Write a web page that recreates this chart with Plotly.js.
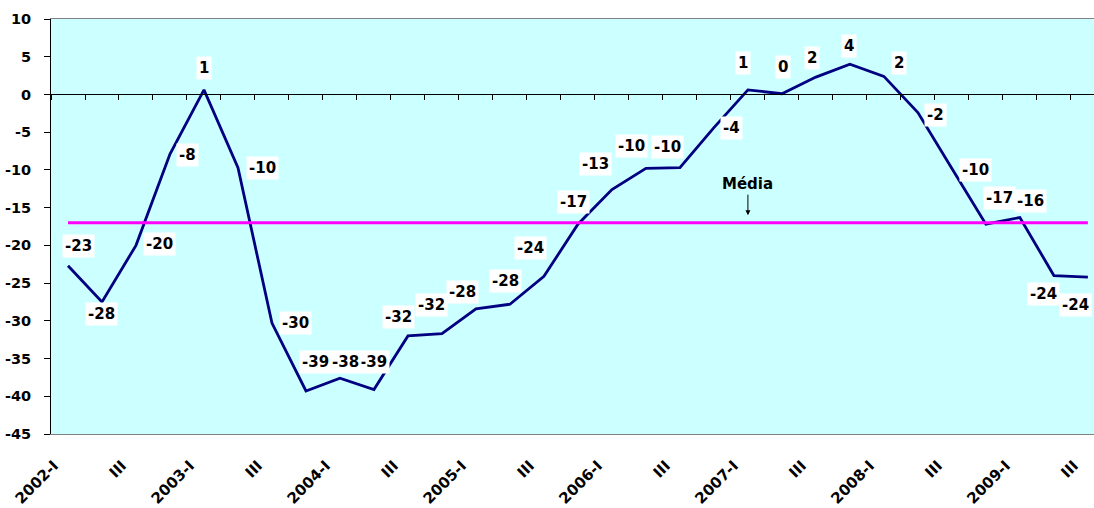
<!DOCTYPE html>
<html>
<head>
<meta charset="utf-8">
<script src="https://cdn.plot.ly/plotly-3.0.1.min.js"></script>
<style>html,body{margin:0;padding:0;background:#fff;}#chart{width:1094px;height:508px;}</style>
</head>
<body>
<div id="chart"></div>
<script>
// ---- data ----
var quarters = [
  '2002-I','2002-II','2002-III','2002-IV',
  '2003-I','2003-II','2003-III','2003-IV',
  '2004-I','2004-II','2004-III','2004-IV',
  '2005-I','2005-II','2005-III','2005-IV',
  '2006-I','2006-II','2006-III','2006-IV',
  '2007-I','2007-II','2007-III','2007-IV',
  '2008-I','2008-II','2008-III','2008-IV',
  '2009-I','2009-II','2009-III'
];
var tickLabels = [
  '2002-I','','III','',
  '2003-I','','III','',
  '2004-I','','III','',
  '2005-I','','III','',
  '2006-I','','III','',
  '2007-I','','III','',
  '2008-I','','III','',
  '2009-I','','III'
];
var yTickValues = [10, 5, 0, -5, -10, -15, -20, -25, -30, -35, -40, -45];
var yTickLabels = ['10', '5', '0', '-5', '-10', '-15', '-20', '-25', '-30', '-35', '-40', '-45'];
var values = [
  -22.7, -27.5, -20.0, -7.9,
  0.6, -9.7, -30.3, -39.3,
  -37.6, -39.1, -32.0, -31.7,
  -28.4, -27.8, -24.1, -17.2,
  -12.6, -9.8, -9.7, -4.4,
  0.6, 0.1, 2.3, 4.0,
  2.4, -2.4, -9.8, -17.2,
  -16.3, -24.0, -24.2
];
var valueLabels = [
  '-23','-28','-20','-8',
  '1','-10','-30','-39',
  '-38','-39','-32','-32',
  '-28','-28','-24','-17',
  '-13','-10','-10','-4',
  '1','0','2','4',
  '2','-2','-10','-17',
  '-16','-24','-24'
];
var mediaValue = -17;
var mediaLabel = 'Média';

// ---- label placement (pixel offsets from each point) ----
var labelDx = [10,0,24,18, 0,25,24,10, 6,0,-9,-10, -13,-4,-13,-4, -16,-14,-12,18, -5,1,-4,-1, 15,18,24,14, 11,-10,-12];
var labelDy = [-20,12,-1,1, -22,0,0,-29, -16,-27,-19,-29, -17,-23,-28,-22, -26,-22,-21,0, -27,-27,-19,-18, -13,2,2,-26, -16,18,28];

var FONT = 'DejaVu Sans, Verdana, sans-serif';
var labelFont = {family: FONT, size: 15, color: '#000', weight: 'bold'};
var yTickFont = {family: FONT, size: 14.5, color: '#000', weight: 'bold'};
var xTickFont = {family: FONT, size: 15, color: '#000', weight: 'bold'};

function bold(s) { return s ? '<b>' + s + '</b>' : ''; }

var annotations = [];
for (var i = values.length - 1; i >= 0; i--) {
  annotations.push({
    x: quarters[i], y: values[i], xref: 'x', yref: 'y',
    text: bold(valueLabels[i]), showarrow: false,
    xshift: labelDx[i], yshift: -labelDy[i],
    font: labelFont, bgcolor: '#ffffff', borderpad: 2
  });
}
annotations.push({
  x: quarters[20], y: -16.0, xref: 'x', yref: 'y',
  text: bold(mediaLabel), showarrow: true, ax: 0, ay: -31,
  arrowhead: 2, arrowsize: 1, arrowwidth: 1, arrowcolor: '#000',
  font: labelFont
});

var xRange = [-0.5, 30.18];

var traces = [
  {
    type: 'scatter', mode: 'lines', x: quarters, y: values,
    line: {color: '#000080', width: 2.8}, hoverinfo: 'skip', showlegend: false
  },
  {
    type: 'scatter', mode: 'lines', x: [quarters[0], quarters[quarters.length - 1]], y: [mediaValue, mediaValue],
    xaxis: 'x2', yaxis: 'y',
    line: {color: '#FF00FF', width: 3}, hoverinfo: 'skip', showlegend: false
  }
];

var layout = {
  width: 1094, height: 508,
  margin: {l: 51, r: 0, t: 19, b: 74},
  paper_bgcolor: '#ffffff',
  plot_bgcolor: '#CCFFFF',
  showlegend: false,
  xaxis: {
    type: 'category', categoryorder: 'array', categoryarray: quarters,
    range: xRange, tickmode: 'array', tickvals: quarters, ticktext: tickLabels.map(bold),
    tickangle: -45, ticks: '', showgrid: false, zeroline: false,
    showline: true, linecolor: '#808080', linewidth: 1, mirror: true,
    tickfont: xTickFont, ticklabelstandoff: 16, ticklabelshift: -14
  },
  xaxis2: {
    type: 'category', categoryorder: 'array', categoryarray: quarters,
    overlaying: 'x', anchor: 'free', position: 45 / 55, side: 'bottom',
    range: xRange, tickmode: 'array', tickvals: quarters,
    ticks: 'outside', tickson: 'boundaries', ticklen: 5, tickcolor: '#000', tickwidth: 1,
    showticklabels: false, showgrid: false, zeroline: false,
    showline: true, linecolor: '#000', linewidth: 1
  },
  yaxis: {
    range: [-45, 10], tickmode: 'array', tickvals: yTickValues, ticktext: yTickLabels.map(bold),
    ticks: 'outside', ticklen: 6, tickcolor: '#000', tickwidth: 1,
    showline: true, linecolor: '#000', linewidth: 1,
    showgrid: false, zeroline: false,
    tickfont: yTickFont, ticklabelstandoff: 10
  },
  annotations: annotations
};

Plotly.newPlot('chart', traces, layout, {staticPlot: true, displayModeBar: false});
</script>
</body>
</html>
